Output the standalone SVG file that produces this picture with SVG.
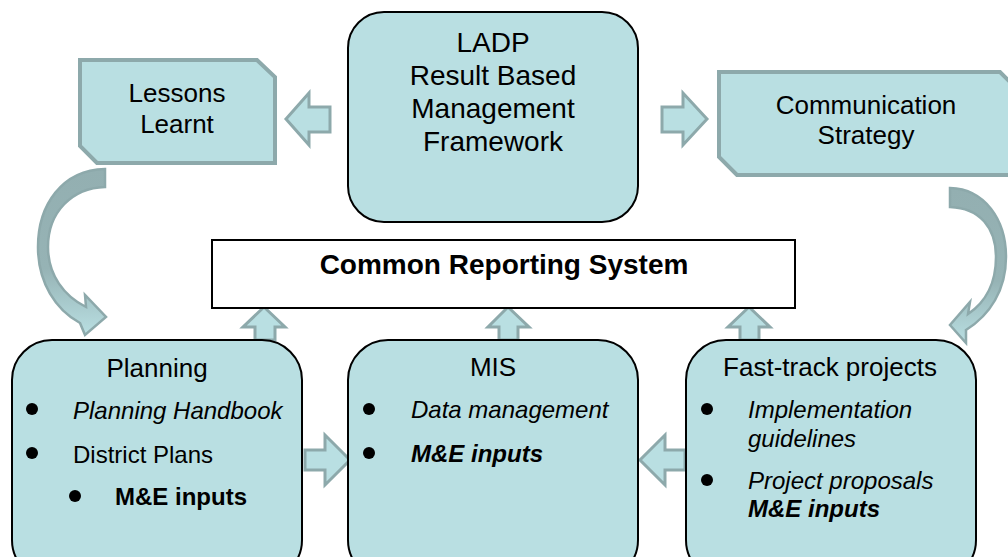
<svg xmlns="http://www.w3.org/2000/svg" width="1008" height="557" viewBox="0 0 1008 557">
<defs>
<style>
.box{fill:#B9DFE2;stroke:#000;stroke-width:2}
.tag{fill:#B9DFE2;stroke:#8DA9AB;stroke-width:4;stroke-linejoin:miter}
.crs{fill:#fff;stroke:#000;stroke-width:2}
.arr{fill:#B9DFE2;stroke:#8DA9AB;stroke-width:3;stroke-linejoin:miter}
.curve{stroke:#8DA9AB;stroke-width:2.5;stroke-linejoin:miter}
text{font-family:"Liberation Sans",Arial,sans-serif;fill:#000}
.t28{font-size:28px}
.t26{font-size:26px}
.t24{font-size:24px}
.mid{text-anchor:middle}
.i{font-style:italic}
.b{font-weight:bold}
.dot{fill:#000}
</style>
<linearGradient id="gL" x1="0" y1="0" x2="0" y2="1">
<stop offset="0" stop-color="#93AFB1"/>
<stop offset="0.6" stop-color="#96B3B5"/>
<stop offset="1" stop-color="#B9DFE2"/>
</linearGradient>
</defs>

<g id="connectors">
<polygon class="arr" points="330,107 309,107 309,93 286,119 309,145 309,132 330,132"/>
<polygon class="arr" points="662,107 683,107 683,93 707,119 683,145 683,132 662,132"/>
<polygon class="arr" points="255,340 255,327 243,327 264,307 285,327 275,327 275,340"/>
<polygon class="arr" points="499,340 499,327 488,327 508,307 529,327 518,327 518,340"/>
<polygon class="arr" points="740,340 740,327 728,327 749,307 770,327 759,327 759,340"/>
<polygon class="arr" points="305,450 325,450 325,435 350,460 325,485 325,470 305,470"/>
<polygon class="arr" points="685,450 665,450 665,435 640,460 665,485 665,470 685,470"/>
<path class="curve" fill="url(#gL)" d="M 105 169 C 62 170 38 205 38 247 C 38 283 56 310 80 323 L 85 335 L 106 317 L 85 295 L 86 307 C 64 296 48 275 48 247 C 48 212 72 188 105 187 Z"/>
<path class="curve" fill="url(#gL)" d="M 950 188 C 985 189 1006 220 1006 257 C 1006 290 990 315 966 330 L 966 343 L 950 325 L 970 302 L 968 314 C 986 302 996 282 996 257 C 996 228 980 208 950 207 Z"/>
</g>

<g id="ladp">
<rect class="box" x="348" y="12" width="290" height="210" rx="36" ry="36"/>
<text class="t28 mid" x="493" y="52">LADP</text>
<text class="t28 mid" x="493" y="85">Result Based</text>
<text class="t28 mid" x="493" y="118">Management</text>
<text class="t28 mid" x="493" y="151">Framework</text>
</g>

<g id="lessons">
<polygon class="tag" points="80,60 257,60 275,77 275,163 97,163 80,146"/>
<text class="t26 mid" x="177" y="102">Lessons</text>
<text class="t26 mid" x="177" y="133">Learnt</text>
</g>

<g id="communication">
<polygon class="tag" points="719,72 1000,72 1016,88 1016,175 737,175 719,157"/>
<text class="t26 mid" x="866" y="114">Communication</text>
<text class="t26 mid" x="866" y="144">Strategy</text>
</g>

<g id="crs">
<rect class="crs" x="212" y="240" width="583" height="68"/>
<text class="t28 mid b" x="504" y="274">Common Reporting System</text>
</g>

<g id="planning">
<rect class="box" x="12" y="340" width="290" height="240" rx="40" ry="40"/>
<text class="t26 mid" x="157" y="377">Planning</text>
<circle class="dot" cx="32" cy="409" r="6"/>
<text class="t24 i" x="73" y="419">Planning Handbook</text>
<circle class="dot" cx="32" cy="453" r="6"/>
<text class="t24" x="73" y="463">District Plans</text>
<circle class="dot" cx="75" cy="496" r="6"/>
<text class="t24 b" x="115" y="505">M&amp;E inputs</text>
</g>

<g id="mis">
<rect class="box" x="348" y="340" width="290" height="240" rx="40" ry="40"/>
<text class="t26 mid" x="493" y="376">MIS</text>
<circle class="dot" cx="369" cy="409" r="6"/>
<text class="t24 i" x="411" y="418">Data management</text>
<circle class="dot" cx="369" cy="453" r="6"/>
<text class="t24 i b" x="411" y="462">M&amp;E inputs</text>
</g>

<g id="fasttrack">
<rect class="box" x="686" y="340" width="290" height="240" rx="40" ry="40"/>
<text class="t26 mid" x="830" y="376">Fast-track projects</text>
<circle class="dot" cx="707" cy="409" r="6"/>
<text class="t24 i" x="748" y="418">Implementation</text>
<text class="t24 i" x="748" y="447">guidelines</text>
<circle class="dot" cx="707" cy="480" r="6"/>
<text class="t24 i" x="748" y="489">Project proposals</text>
<text class="t24 i b" x="748" y="517">M&amp;E inputs</text>
</g>
</svg>
